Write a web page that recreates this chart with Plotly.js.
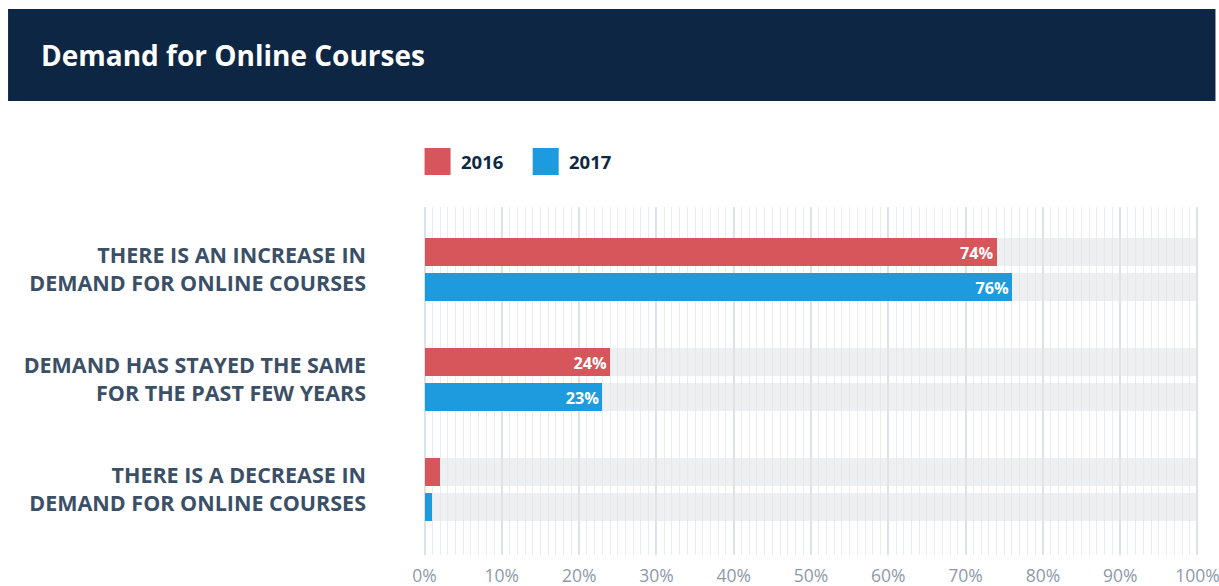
<!DOCTYPE html>
<html>
<head>
<meta charset="utf-8">
<script src="https://cdn.plot.ly/plotly-3.0.1.min.js"></script>
<style>
html,body{margin:0;padding:0;background:#fff;}
#chart{width:1219px;height:586px;}
</style>
</head>
<body>
<div id="chart"></div>
<script>
const categories = [
  "THERE IS AN INCREASE IN<br>DEMAND FOR ONLINE COURSES",
  "DEMAND HAS STAYED THE SAME<br>FOR THE PAST FEW YEARS",
  "THERE IS A DECREASE IN<br>DEMAND FOR ONLINE COURSES"
];
const values2016 = [74, 24, 2];
const values2017 = [76, 23, 1];
const seriesNames = ["2016", "2017"];
const fullScale = [100, 100, 100];
const tickVals = [0, 10, 20, 30, 40, 50, 60, 70, 80, 90, 100];
const tickText = ["0%", "10%", "20%", "30%", "40%", "50%", "60%", "70%", "80%", "90%", "100%"];

const RED = "#d6565b", BLUE = "#1e9ade", BG = "rgba(226,229,233,0.62)";
const W = 0.2545, OFF_A = -0.2864, OFF_B = 0.0318;
const labels = v => v.map(x => x >= 5 ? x + "%" : "");

function bar(vals, color, offset, text, name) {
  return {
    type: "bar", orientation: "h", y: categories, x: vals,
    width: W, offset: offset, name: name,
    marker: {color: color, line: {width: 0}},
    text: text, textposition: text ? "inside" : "none",
    insidetextanchor: "end",
    textfont: {family: "Open Sans", size: 18.5, color: "#ffffff", weight: 700},
    hoverinfo: "skip", showlegend: false, cliponaxis: false
  };
}

const data = [
  bar(fullScale, BG, OFF_A, null, "bg2016"),
  bar(fullScale, BG, OFF_B, null, "bg2017"),
  bar(values2016, RED, OFF_A, labels(values2016), seriesNames[0]),
  bar(values2017, BLUE, OFF_B, labels(values2017), seriesNames[1])
];

// 0..100 spans x 425..1197 (7.72 px/unit); range padded by 0.2 so edge gridlines show
const PAD = 0.2, U = 7.72;
const L = 425 - PAD * U, PW = (100 + 2 * PAD) * U;
const R = 1219 - L - PW;
const PH = 348;
const px = x => (x - L) / PW;
const py = y => (555 - y) / PH;

const layout = {
  width: 1219, height: 586,
  margin: {l: L, r: R, t: 207, b: 31, pad: 0},
  paper_bgcolor: "#ffffff", plot_bgcolor: "#ffffff",
  barmode: "overlay",
  bargap: 0,
  title: {
    text: "Demand for Online Courses",
    font: {family: "Open Sans", size: 28, color: "#ffffff", weight: 700},
    xref: "container", x: 41 / 1219, xanchor: "left",
    yref: "container", y: 1 - 56 / 586, yanchor: "middle"
  },
  xaxis: {
    range: [-PAD, 100 + PAD], fixedrange: true,
    tickvals: tickVals, ticktext: tickText,
    showgrid: true, gridcolor: "#dde2e8", gridwidth: 2,
    zeroline: false, showline: false, ticks: "",
    ticklabelstandoff: 8, ticklabeloverflow: "allow",
    tickfont: {family: "Open Sans", size: 17.5, color: "#8d9aaa"},
    minor: {dtick: 1, showgrid: true, gridcolor: "#e9edf1", gridwidth: 1, ticks: ""}
  },
  yaxis: {
    type: "category",
    range: [2.595, -0.568], fixedrange: true,
    showgrid: false, zeroline: false, showline: false, ticks: "",
    ticklabelstandoff: 56,
    tickfont: {family: "Open Sans", size: 21.5, color: "#3b4f67", weight: 700}
  },
  showlegend: false,
  shapes: [
    {type: "rect", xref: "paper", yref: "paper", layer: "below",
     x0: px(9), x1: px(1215), y0: py(101), y1: py(9),
     fillcolor: "#0c2644", line: {width: 0}},
    {type: "rect", xref: "paper", yref: "paper",
     x0: px(425), x1: px(451), y0: py(175), y1: py(148),
     fillcolor: RED, line: {width: 0}},
    {type: "rect", xref: "paper", yref: "paper",
     x0: px(533), x1: px(559), y0: py(175), y1: py(148),
     fillcolor: BLUE, line: {width: 0}}
  ],
  annotations: [
    {text: seriesNames[0], xref: "paper", yref: "paper", x: px(459), y: py(162),
     xanchor: "left", yanchor: "middle", showarrow: false,
     font: {family: "Open Sans", size: 18.5, color: "#0d2844", weight: 700}},
    {text: seriesNames[1], xref: "paper", yref: "paper", x: px(567), y: py(162),
     xanchor: "left", yanchor: "middle", showarrow: false,
     font: {family: "Open Sans", size: 18.5, color: "#0d2844", weight: 700}}
  ]
};

Plotly.newPlot("chart", data, layout, {displayModeBar: false, staticPlot: true});
</script>
</body>
</html>
